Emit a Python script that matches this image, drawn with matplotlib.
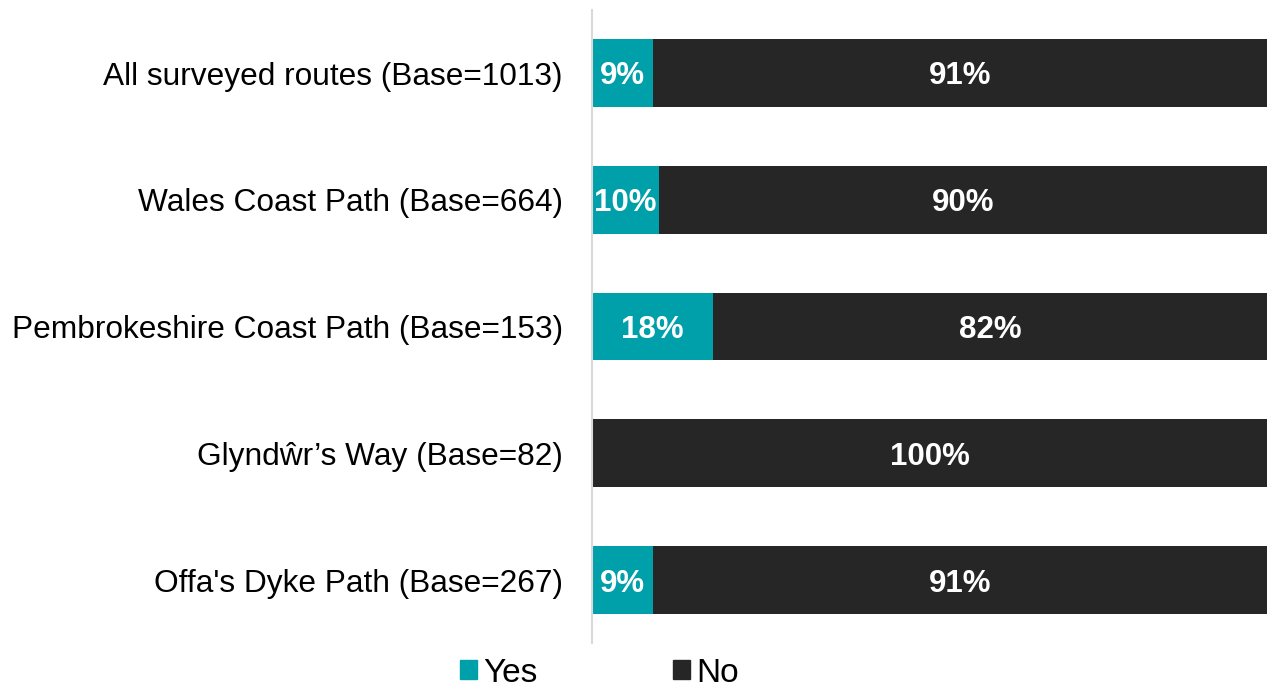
import matplotlib
matplotlib.use("Agg")
import matplotlib.pyplot as plt
from matplotlib.patches import Patch

plt.rcParams['font.family'] = ['Liberation Sans', 'DejaVu Sans']

categories = [
    "All surveyed routes (Base=1013)",
    "Wales Coast Path (Base=664)",
    "Pembrokeshire Coast Path (Base=153)",
    "Glyndŵr’s Way (Base=82)",
    "Offa's Dyke Path (Base=267)",
]
yes_pct = [9, 10, 18, 0, 9]
no_pct = [91, 90, 82, 100, 91]
series_names = ["Yes", "No"]
colors = ["#00A0AA", "#262626"]

fig = plt.figure(figsize=(12.67, 6.88), dpi=100)
ax = fig.add_axes([0.4672, 0.0648, 0.5328, 0.9212])

y = list(range(len(categories)))
bar_h = 0.536
ax.barh(y, yes_pct, height=bar_h, color=colors[0], label=series_names[0])
ax.barh(y, no_pct, left=yes_pct, height=bar_h, color=colors[1], label=series_names[1])


def segment_label(x, yi, value):
    ax.annotate(f"{value}%", xy=(x, yi), xytext=(0, -2.5),
                textcoords="offset points", ha="center", va="center",
                color="white", fontsize=22.5, fontweight="bold")


for yi, yv, nv in zip(y, yes_pct, no_pct):
    if yv > 0:
        segment_label(yv / 2, yi, yv)
    if nv > 0:
        segment_label(yv + nv / 2, yi, nv)

ax.set_xlim(0, 100)
ax.set_ylim(len(categories) - 0.5, -0.5)
ax.set_yticks(y)
ax.set_yticklabels(categories, fontsize=22.8, color="#000000")
ax.tick_params(axis="y", length=0, pad=21)
ax.set_xticks([])
for s in ["top", "right", "bottom"]:
    ax.spines[s].set_visible(False)
ax.spines["left"].set_color("#D9D9D9")
ax.spines["left"].set_linewidth(1.5)

handles = [Patch(color=c, label=n) for c, n in zip(colors, series_names)]
fig.legend(handles=handles, loc="center", bbox_to_anchor=(0.473, 0.0218),
           ncol=2, frameon=False, fontsize=24, handlelength=0.52,
           handleheight=0.52, handletextpad=0.18, columnspacing=4.06,
           borderpad=0)

fig.savefig("out.png", dpi=100)
